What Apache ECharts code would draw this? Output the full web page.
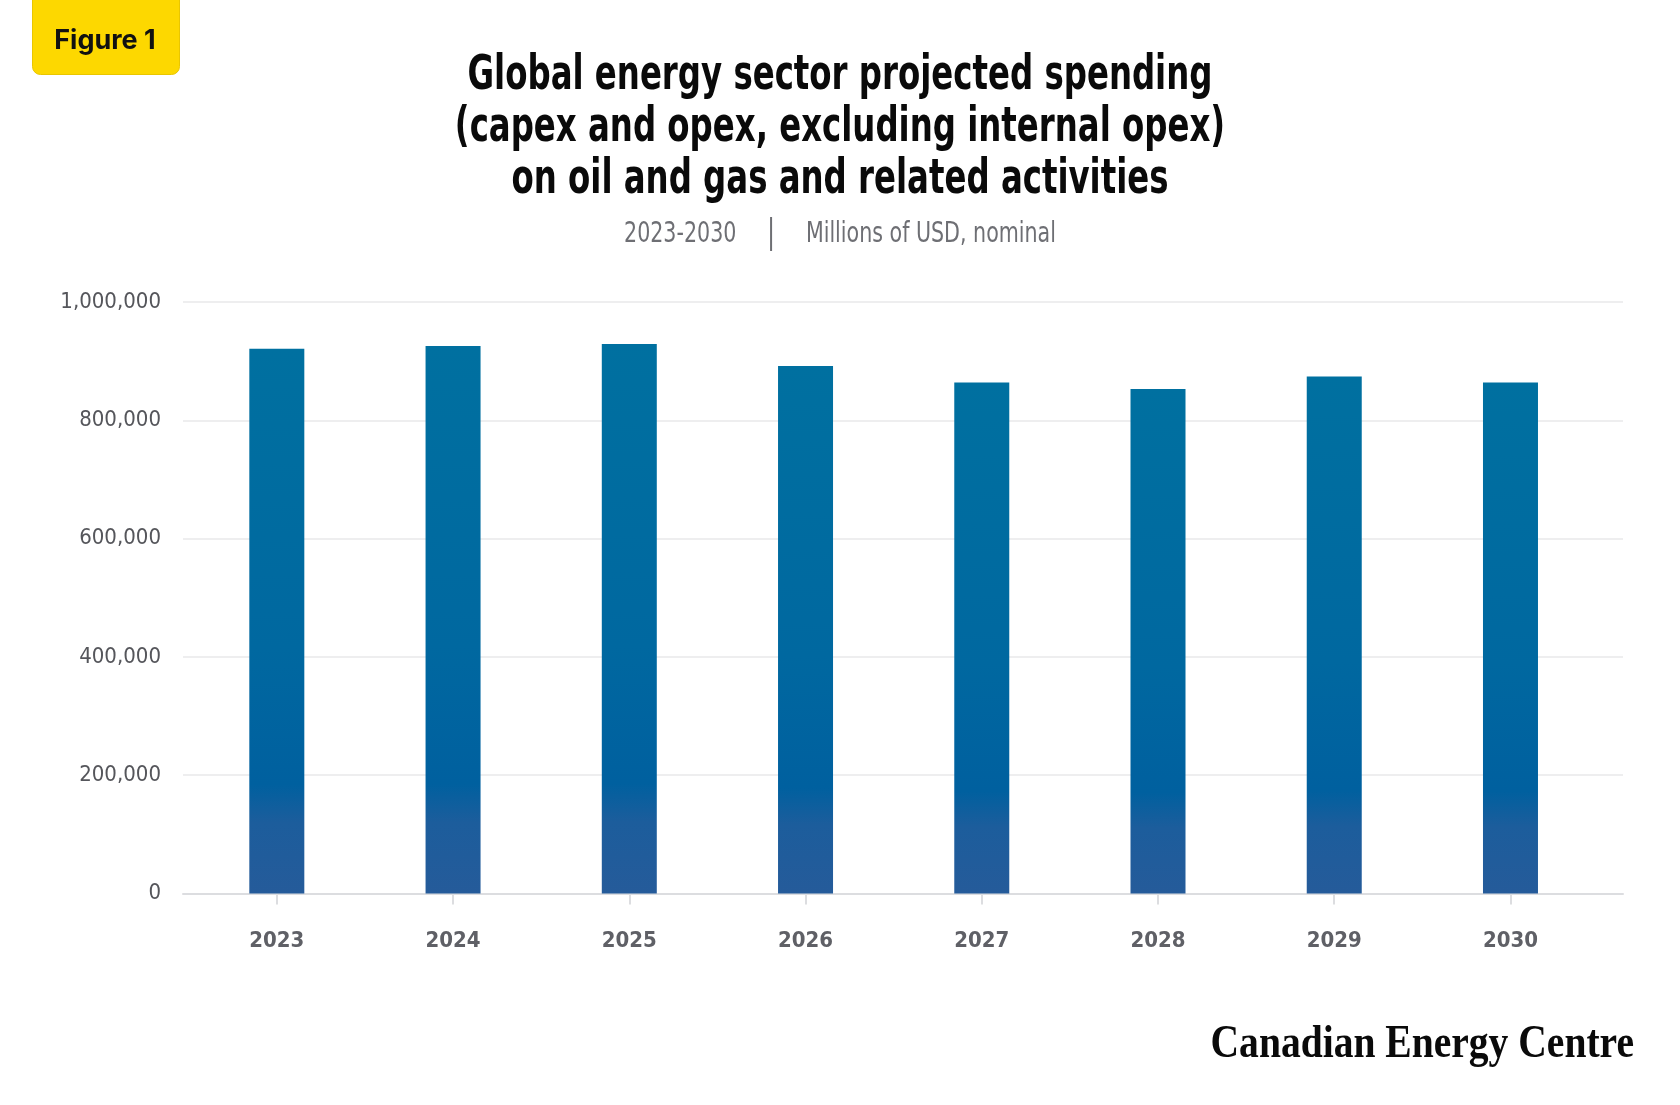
<!DOCTYPE html>
<html>
<head>
<meta charset="utf-8">
<script src="https://cdn.jsdelivr.net/npm/echarts@6/dist/echarts.min.js"></script>
<style>
  html, body { margin: 0; padding: 0; background: #ffffff; }
  #chart { width: 1680px; height: 1105px; }
</style>
</head>
<body>
<div id="chart"></div>
<script>
// ---- data ----
const categories = ['2023', '2024', '2025', '2026', '2027', '2028', '2029', '2030'];
const spending = [921000, 925500, 929000, 892000, 864000, 853000, 874000, 864000];
const yTicks = [0, 200000, 400000, 600000, 800000, 1000000];

const titleLines = [
  'Global energy sector projected spending',
  '(capex and opex, excluding internal opex)',
  'on oil and gas and related activities'
];
const subtitleLeft = '2023-2030';
const subtitleRight = 'Millions of USD, nominal';
const badgeText = 'Figure 1';
const logoText = 'Canadian Energy Centre';

const narrow = '"DejaVu Sans Condensed", "DejaVu Sans", sans-serif';

const chart = echarts.init(document.getElementById('chart'), null, { renderer: 'canvas' });

const yMin = yTicks[0], yMax = yTicks[yTicks.length - 1];
const yStep = yTicks[1] - yTicks[0];

chart.setOption({
  backgroundColor: '#ffffff',
  animation: false,
  grid: [
    { left: 183, right: 57, top: 302, bottom: 211.5, containLabel: false },
    { left: 188.7, right: 81.4, top: 302, bottom: 211.5, containLabel: false }
  ],
  xAxis: [
    {
      type: 'category',
      gridIndex: 0,
      data: categories,
      axisLine: { show: true, lineStyle: { color: '#dcdde0', width: 2 } },
      axisTick: { show: false },
      axisLabel: { show: false },
      splitLine: { show: false }
    },
    {
      type: 'category',
      gridIndex: 1,
      data: categories,
      axisLine: { show: false },
      axisTick: { show: true, alignWithLabel: true, length: 11, lineStyle: { color: '#dcdde0', width: 2 } },
      axisLabel: {
        show: true,
        margin: 37,
        fontFamily: narrow,
        fontWeight: 'bold',
        fontSize: 22,
        color: '#5f6066'
      },
      splitLine: { show: false }
    }
  ],
  yAxis: [
    {
      type: 'value',
      gridIndex: 0,
      min: yMin,
      max: yMax,
      interval: yStep,
      axisLine: { show: false },
      axisTick: { show: false },
      splitLine: { show: true, lineStyle: { color: '#eeeeef', width: 2 } },
      axisLabel: {
        margin: 22,
        fontFamily: narrow,
        fontSize: 22,
        fontWeight: 'normal',
        color: '#55565b',
        formatter: v => v.toLocaleString('en-US')
      }
    },
    {
      type: 'value',
      gridIndex: 1,
      min: yMin,
      max: yMax,
      interval: yStep,
      show: false,
      splitLine: { show: false }
    }
  ],
  series: [
    {
      type: 'bar',
      xAxisIndex: 1,
      yAxisIndex: 1,
      data: spending,
      barWidth: 55,
      itemStyle: {
        color: new echarts.graphic.LinearGradient(0, 0, 0, 1, [
          { offset: 0, color: '#0070a0' },
          { offset: 0.55, color: '#0068a0' },
          { offset: 0.8, color: '#00609f' },
          { offset: 0.87, color: '#1c5d9c' },
          { offset: 1, color: '#255b9a' }
        ])
      },
      silent: true
    }
  ],
  graphic: [
    {
      type: 'text',
      x: 840,
      y: 51,
      scaleX: 0.75,
      style: {
        text: titleLines.join('\n'),
        font: 'bold 48px ' + narrow,
        lineHeight: 52,
        align: 'center',
        verticalAlign: 'top',
        fill: '#0a0a0a'
      }
    },
    {
      type: 'text',
      x: 840,
      y: 234,
      scaleX: 0.79,
      style: {
        text: '{a|' + subtitleLeft + '}{bar|    |    }{a|' + subtitleRight + '}',
        align: 'center',
        verticalAlign: 'middle',
        rich: {
          a: { fontFamily: narrow, fontSize: 29, fontWeight: 'normal', fill: '#6e6f74' },
          bar: { fontFamily: narrow, fontSize: 34, fontWeight: 'normal', fill: '#6e6f74' }
        }
      }
    },
    {
      type: 'rect',
      left: 32,
      top: -10,
      shape: { width: 147, height: 84, r: 8 },
      style: { fill: '#fdd800', stroke: '#e9c600', lineWidth: 1 }
    },
    {
      type: 'text',
      x: 105,
      y: 41,
      style: {
        text: badgeText,
        font: 'bold 27px Inter, "Noto Sans", sans-serif',
        align: 'center',
        verticalAlign: 'middle',
        fill: '#111111'
      }
    },
    {
      type: 'text',
      x: 1634,
      y: 1045,
      scaleX: 0.86,
      style: {
        text: logoText,
        font: 'bold 46px "Liberation Serif", "DejaVu Serif", serif',
        align: 'right',
        verticalAlign: 'middle',
        fill: '#0a0a0a'
      }
    }
  ]
});
</script>
</body>
</html>
